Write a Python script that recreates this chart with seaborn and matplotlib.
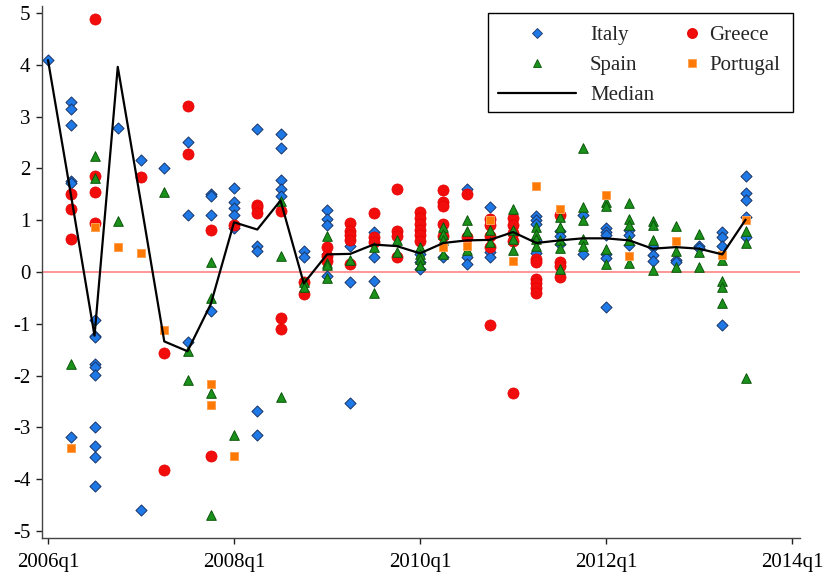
import matplotlib
matplotlib.use("Agg")
import matplotlib.pyplot as plt
from matplotlib.lines import Line2D
from matplotlib.patches import Rectangle
import pandas as pd
import seaborn as sns

# Quarterly values by country, keyed by quarter
italy = {
    "2006q1": [4.09],
    "2006q2": [3.28, 3.15, 2.84, 1.75, 1.72, -3.18],
    "2006q3": [-0.93, -1.23, -1.25, -1.77, -1.83, -1.98, -3.00, -3.36, -3.57, -4.13],
    "2006q4": [2.78],
    "2007q1": [2.17, -4.60],
    "2007q2": [2.01],
    "2007q3": [2.51, 1.10, -1.36],
    "2007q4": [1.51, 1.47, 1.11, -0.76],
    "2008q1": [1.63, 1.36, 1.24, 1.11, 0.85],
    "2008q2": [2.76, 0.51, 0.40, -2.69, -3.14],
    "2008q3": [2.66, 2.40, 1.78, 1.60, 1.46],
    "2008q4": [0.40, 0.29],
    "2009q1": [1.19, 1.03, 0.91, 0.35, -0.08],
    "2009q2": [0.51, -0.20, -2.52],
    "2009q3": [0.78, 0.28, -0.18],
    "2010q1": [0.34, 0.19, 0.06],
    "2010q2": [0.29],
    "2010q3": [1.61, 0.29, 0.15],
    "2010q4": [1.25, 0.39, 0.29],
    "2011q2": [1.09, 1.00, 0.92, 0.62, 0.37],
    "2011q3": [0.80, 0.69, 0.55],
    "2011q4": [1.11, 0.34],
    "2012q1": [0.85, 0.77, 0.71, 0.34, 0.27, -0.67],
    "2012q2": [0.82, 0.71, 0.53],
    "2012q3": [0.49, 0.32, 0.22],
    "2012q4": [0.24, 0.20],
    "2013q1": [0.51, 0.46],
    "2013q2": [0.77, 0.67, 0.51, -1.02],
    "2013q3": [1.85, 1.53, 1.39, 1.07, 0.67],
}

greece = {
    "2006q2": [1.51, 1.21, 0.64],
    "2006q3": [4.88, 1.85, 1.54, 0.94],
    "2007q1": [1.84],
    "2007q2": [-1.56, -3.83],
    "2007q3": [3.20, 2.27],
    "2007q4": [0.82, -3.55],
    "2008q1": [0.90],
    "2008q2": [1.30, 1.25, 1.13],
    "2008q3": [1.18, -0.89, -1.10],
    "2008q4": [-0.20, -0.42],
    "2009q1": [0.49, 0.30, 0.22],
    "2009q2": [0.94, 0.80, 0.71, 0.61, 0.16],
    "2009q3": [1.13, 0.67, 0.58],
    "2009q4": [1.61, 0.80, 0.69, 0.29],
    "2010q1": [1.16, 1.05, 0.93, 0.81, 0.71, 0.60],
    "2010q2": [1.58, 1.35, 1.27, 0.93, 0.70],
    "2010q3": [1.50, 0.68],
    "2010q4": [1.03, 0.90, 0.70, 0.49, -1.02],
    "2011q1": [1.05, 0.90, 0.75, 0.60, -2.33],
    "2011q2": [0.26, 0.19, -0.13, -0.22, -0.31, -0.41],
    "2011q3": [1.11, 0.19, 0.12, -0.10],
}

spain = {
    "2006q2": [-1.78],
    "2006q3": [2.24, 1.82],
    "2006q4": [0.98],
    "2007q2": [1.54],
    "2007q3": [-1.52, -2.09],
    "2007q4": [0.20, -0.50, -2.33, -4.70],
    "2008q1": [-3.14],
    "2008q3": [1.38, 0.31, -2.42],
    "2008q4": [-0.20, -0.29],
    "2009q1": [0.70, 0.18, 0.13, -0.12],
    "2009q2": [0.24],
    "2009q3": [0.49, -0.40],
    "2009q4": [0.61, 0.39],
    "2010q1": [0.49, 0.34, 0.26, 0.13],
    "2010q2": [0.87, 0.74, 0.62, 0.35],
    "2010q3": [1.00, 0.80, 0.42],
    "2010q4": [0.82, 0.58],
    "2011q1": [1.22, 0.82, 0.64, 0.43],
    "2011q2": [0.87, 0.74, 0.64, 0.51],
    "2011q3": [1.06, 0.87, 0.62, 0.46, 0.06],
    "2011q4": [2.39, 1.25, 1.00, 0.64, 0.51],
    "2012q1": [1.35, 1.27, 0.44, 0.16],
    "2012q2": [1.33, 1.03, 0.90, 0.61, 0.17],
    "2012q3": [0.98, 0.90, 0.62, 0.04],
    "2012q4": [0.88, 0.40, 0.09],
    "2013q1": [0.73, 0.39, 0.09],
    "2013q2": [0.24, -0.17, -0.28, -0.60],
    "2013q3": [0.80, 0.56, -2.05],
}

portugal = {
    "2006q2": [-3.40],
    "2006q3": [0.87],
    "2006q4": [0.48],
    "2007q1": [0.37],
    "2007q2": [-1.12],
    "2007q4": [-2.16, -2.57],
    "2008q1": [-3.55],
    "2010q2": [0.49],
    "2010q3": [0.51],
    "2010q4": [1.00],
    "2011q1": [0.21],
    "2011q2": [1.66],
    "2011q3": [1.22],
    "2012q1": [1.48],
    "2012q2": [0.30],
    "2012q4": [0.60],
    "2013q2": [0.32],
    "2013q3": [1.01],
}

# Cross-country median, 2006q1 .. 2013q3
median_vals = [4.09, 1.45, -1.23, 3.96, 1.33, -1.34, -1.53, -0.62, 0.96, 0.82,
               1.38, -0.22, 0.34, 0.35, 0.53, 0.50, 0.36, 0.56, 0.61, 0.62,
               0.77, 0.56, 0.61, 0.65, 0.65, 0.61, 0.45, 0.48, 0.45, 0.34, 1.01]

tick_labels = ["2006q1", "2008q1", "2010q1", "2012q1", "2014q1"]
y_ticks = [-5, -4, -3, -2, -1, 0, 1, 2, 3, 4, 5]


def quarter_index(label):
    year, q = label.split("q")
    return (int(year) - 2006) * 4 + int(q) - 1


rows = []
for name, table in [("Italy", italy), ("Greece", greece),
                    ("Spain", spain), ("Portugal", portugal)]:
    for q, vals in table.items():
        for v in vals:
            rows.append((quarter_index(q), v, name))
df = pd.DataFrame(rows, columns=["quarter", "value", "country"])
med_df = pd.DataFrame({"quarter": range(len(median_vals)), "value": median_vals})

styles = {
    "Italy":    dict(marker="D", s=32, color="#1E78E6", edgecolor="#1A3566", linewidth=0.7),
    "Greece":   dict(marker="o", s=64, color="#F20D0D", edgecolor="#E60000", linewidth=0.5),
    "Spain":    dict(marker="^", s=48, color="#1A911A", edgecolor="#0B560B", linewidth=0.7),
    "Portugal": dict(marker="s", s=34, color="#FF7A05", edgecolor="#FFA050", linewidth=0.7),
}

sns.set_theme(style="ticks")
plt.rcParams["font.family"] = ["Liberation Serif", "DejaVu Serif"]
plt.rcParams["axes.unicode_minus"] = False
FS = 15
FS_PX = FS * 100 / 72

fig = plt.figure(figsize=(8.26, 5.8), dpi=100)
ax = fig.add_axes([41.5 / 826, 1 - 538 / 580, (800 - 41.5) / 826, (538 - 6) / 580])

ax.axhline(0, color="#FF7A7A", lw=1.1, zorder=1)

for name in ["Italy", "Greece", "Spain", "Portugal"]:
    sns.scatterplot(data=df[df["country"] == name], x="quarter", y="value",
                    ax=ax, legend=False, zorder=3, **styles[name])

sns.lineplot(data=med_df, x="quarter", y="value", ax=ax, color="black",
             lw=1.6, zorder=4, legend=False)

ax.set_xlim(-0.28, 32.34)
ax.set_ylim(-5.135, 5.135)
ax.set_xticks([0, 8, 16, 24, 32])
ax.set_xticklabels(tick_labels)
ax.set_yticks(y_ticks)
ax.set_yticklabels([str(t) for t in y_ticks])
ax.set_xlabel("")
ax.set_ylabel("")
ax.tick_params(axis="both", direction="out", length=4, width=1, colors="#222222",
               labelsize=FS, labelcolor="black")
ax.tick_params(axis="x", pad=7)
ax.tick_params(axis="y", pad=4)
for side in ["top", "right"]:
    ax.spines[side].set_visible(False)
for side in ["left", "bottom"]:
    ax.spines[side].set_color("#444444")
    ax.spines[side].set_linewidth(1.0)
ax.grid(False)

# Legend: framed box holding two columns
frame = Rectangle((488 / 826, 1 - 112 / 580), 305 / 826, 99 / 580,
                  transform=fig.transFigure, facecolor="white", edgecolor="black",
                  lw=1.0, zorder=4)
fig.add_artist(frame)


def handle(name, ms):
    st = styles[name]
    return Line2D([], [], ls="none", marker=st["marker"], markersize=ms,
                  markerfacecolor=st["color"], markeredgecolor=st["edgecolor"],
                  markeredgewidth=0.6)


h_median = Line2D([], [], color="black", lw=1.6)
leg1 = fig.legend([handle("Italy", 4.8), handle("Spain", 6.2), h_median],
                  ["Italy", "Spain", "Median"], loc="upper left",
                  bbox_to_anchor=(498 / 826, 1 - 25.5 / 580), frameon=False,
                  handlelength=78 / FS_PX, handletextpad=14 / FS_PX, borderpad=0,
                  borderaxespad=0, labelspacing=0.5, fontsize=FS)
leg1.set_zorder(5)
leg2 = fig.legend([handle("Greece", 7.2), handle("Portugal", 5.2)],
                  ["Greece", "Portugal"], loc="upper left",
                  bbox_to_anchor=((692 - FS_PX / 2) / 826, 1 - 25.5 / 580), frameon=False,
                  handlelength=1.0, handletextpad=(709 - 692 - FS_PX / 2) / FS_PX,
                  borderpad=0, borderaxespad=0, labelspacing=0.5, fontsize=FS)
leg2.set_zorder(5)

fig.savefig("out.png", dpi=100)
